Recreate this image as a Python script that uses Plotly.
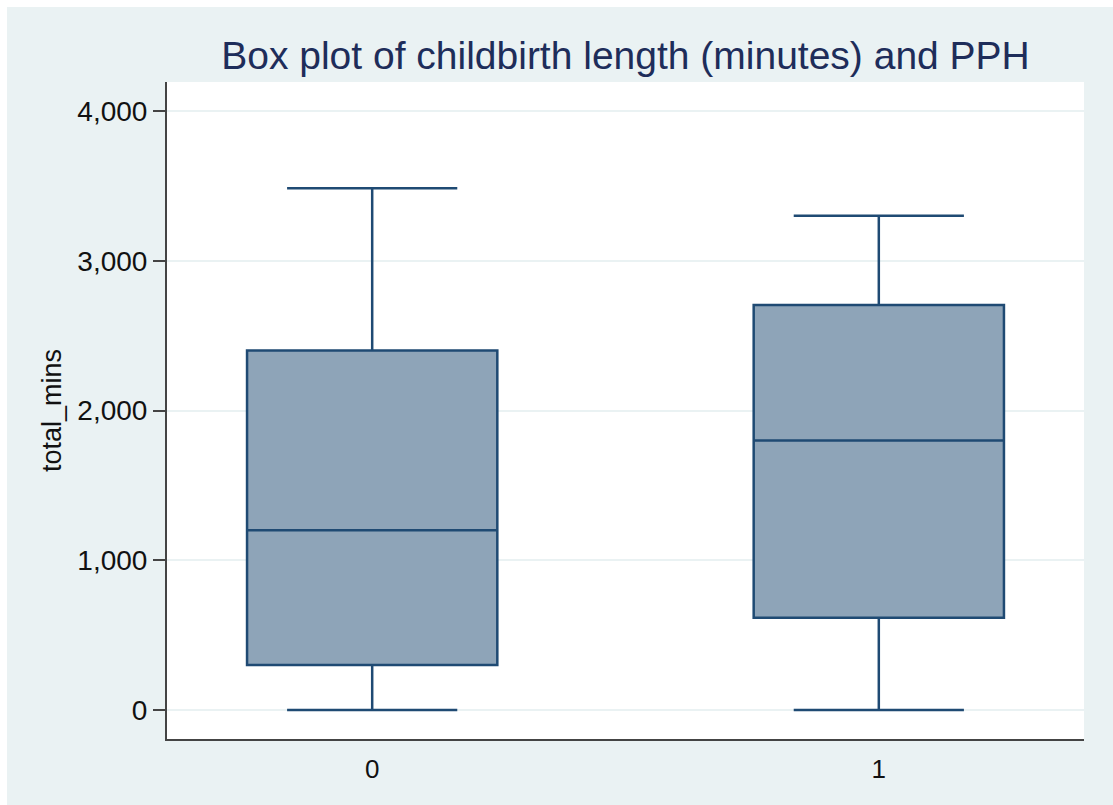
import plotly.graph_objects as go

# Summary statistics of childbirth length (minutes) by PPH group
groups = [0, 1]
q1_vals = [300, 615]
median_vals = [1200, 1800]
q3_vals = [2400, 2705]
lower_whisker = [0, 0]
upper_whisker = [3485, 3300]

y_ticks = [0, 1000, 2000, 3000, 4000]

navy = "#1F4A73"
fill = "#8EA4B8"
bg = "#EAF2F3"
font_family = "Liberation Sans, Arial, sans-serif"

W, H = 1113, 805
ML, MR, MT, MB = 167, 29, 82, 66
PW, PH = W - ML - MR, H - MT - MB

fig = go.Figure()
for g, a, m, b, lo, hi in zip(groups, q1_vals, median_vals, q3_vals,
                              lower_whisker, upper_whisker):
    fig.add_trace(go.Box(
        x=[g], q1=[a], median=[m], q3=[b],
        lowerfence=[lo], upperfence=[hi],
        width=0.494, whiskerwidth=0.68,
        fillcolor=fill,
        line=dict(color=navy, width=2.5),
        boxpoints=False, showlegend=False, hoverinfo="skip",
    ))

# thin white frame along the top and left edges of the graph region
frame = [
    dict(type="rect", xref="paper", yref="paper", layer="below",
         x0=-ML / PW, x1=(W - ML) / PW,
         y0=(PH + MT - 7) / PH, y1=(PH + MT) / PH,
         fillcolor="white", line=dict(width=0)),
    dict(type="rect", xref="paper", yref="paper", layer="below",
         x0=-ML / PW, x1=(7 - ML) / PW,
         y0=-MB / PH, y1=(PH + MT) / PH,
         fillcolor="white", line=dict(width=0)),
]

fig.update_layout(
    width=W, height=H,
    margin=dict(l=ML, r=MR, t=MT, b=MB),
    paper_bgcolor=bg,
    plot_bgcolor="white",
    font=dict(family=font_family, color="#111111"),
    title=dict(
        text="Box plot of childbirth length (minutes) and PPH",
        x=(ML + W - MR) / 2 / W, xanchor="center",
        y=1 - 55 / H, yanchor="middle",
        font=dict(size=39, color="#1E2D5A", family=font_family),
    ),
    shapes=frame,
)

fig.update_xaxes(
    range=[-0.405, 1.405],
    tickvals=groups, ticktext=[str(g) for g in groups],
    showgrid=False, zeroline=False,
    showline=True, linecolor="#444444", linewidth=2,
    ticks="", tickfont=dict(size=26, color="#111111"),
    ticklabelstandoff=6,
)
fig.update_yaxes(
    range=[-194, 4194],
    tickvals=y_ticks, tickformat=",",
    showgrid=True, gridcolor=bg, gridwidth=2,
    zeroline=False,
    showline=True, linecolor="#444444", linewidth=2,
    ticks="outside", ticklen=12, tickcolor="#444444", tickwidth=1.5,
    tickfont=dict(size=28, color="#111111"),
    title=dict(text="total_mins", font=dict(size=27, color="#111111"), standoff=8),
)

fig.write_html("out.html")
